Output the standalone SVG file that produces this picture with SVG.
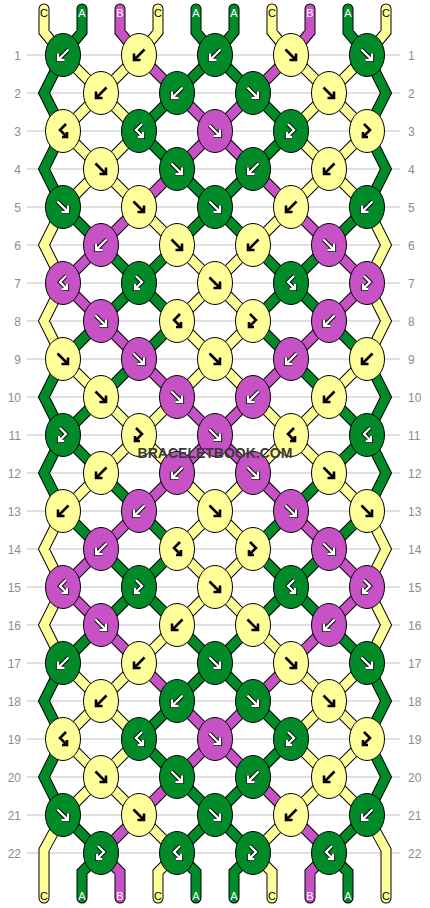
<svg xmlns="http://www.w3.org/2000/svg" xmlns:xlink="http://www.w3.org/1999/xlink" width="430" height="908" viewBox="0 0 430 908">
<style>
.grid{fill:none;stroke:#c0c0c0;stroke-width:1}
.lbl{font-family:"Liberation Sans",Arial,sans-serif;font-size:12px;fill:#8c8c8c}
.o{fill:none;stroke:#000;stroke-width:11;stroke-linecap:round;stroke-linejoin:miter}
.sg,.sy,.sp{fill:none;stroke-width:9;stroke-linecap:round;stroke-linejoin:miter}
.sg{stroke:#008a28}.sy{stroke:#ffff99}.sp{stroke:#c652c6}
.kg,.ky,.kp{stroke:#000;stroke-width:1}
.kg{fill:#008a28}.ky{fill:#ffff99}.kp{fill:#c652c6}
.ao{fill:none;stroke:#000;stroke-width:4.2}
.aw{fill:none;stroke:#fff;stroke-width:2.4}
.ab{fill:none;stroke:#000;stroke-width:2.6}
.lt{font-family:"Liberation Sans",Arial,sans-serif;font-size:11px;text-anchor:middle}
.lw{fill:#fff}.lb{fill:#000}
.wm{font-family:"Liberation Sans",Arial,sans-serif;font-size:14px;font-weight:bold;fill:#3a3a3a;text-anchor:middle}
</style>
<defs>
<path id="F" d="M-5.5,-5.5 L5,5 M5,-1.5 V5 H-1.5"/>
<path id="B" d="M5.5,-5.5 L-5,5 M-5,-1.5 V5 H1.5"/>
<path id="FB" d="M-3,-7 L3,-1 L-4,6 M-4,1 V6 H1"/>
<path id="BF" d="M3,-7 L-3,-1 L4,6 M4,1 V6 H-1"/>
<g id="wF"><use href="#F" class="ao"/><use href="#F" class="aw"/></g>
<g id="wB"><use href="#B" class="ao"/><use href="#B" class="aw"/></g>
<g id="wFB"><use href="#FB" class="ao"/><use href="#FB" class="aw"/></g>
<g id="wBF"><use href="#BF" class="ao"/><use href="#BF" class="aw"/></g>
<path id="pY" d="M44,9V32L63,55M158,9V32L139,55M272,9V32L291,55M386,9V32L367,55
M63,55L101,93M139,55L101,93M291,55L329,93M367,55L329,93
M101,93L63,131M101,93L139,131M329,93L291,131M329,93L367,131
M63,131L101,169M139,131L101,169M291,131L329,169M367,131L329,169
M101,169L63,207M101,169L139,207M329,169L291,207M329,169L367,207
M139,207L177,245M291,207L253,245
M177,245L215,283M253,245L215,283
M215,283L177,321M215,283L253,321
M177,321L215,359M253,321L215,359
M63,359L101,397M215,359L177,397M215,359L253,397M367,359L329,397
M101,397L139,435M177,397L139,435M253,397L291,435M329,397L291,435
M139,435L101,473M139,435L177,473M291,435L253,473M291,435L329,473
M101,473L63,511M177,473L215,511M253,473L215,511M329,473L367,511
M215,511L177,549M215,511L253,549
M177,549L215,587M253,549L215,587
M215,587L177,625M215,587L253,625
M177,625L139,663M253,625L291,663
M63,663L101,701M139,663L101,701M291,663L329,701M367,663L329,701
M101,701L63,739M101,701L139,739M329,701L291,739M329,701L367,739
M63,739L101,777M139,739L101,777M291,739L329,777M367,739L329,777
M101,777L63,815M101,777L139,815M329,777L291,815M329,777L367,815
M139,815L177,853M291,815L253,853
M63,207L44,245L63,283M63,283L44,321L63,359M63,511L44,549L63,587M63,587L44,625L63,663
M367,207L386,245L367,283M367,283L386,321L367,359M367,511L386,549L367,587M367,587L386,625L367,663
M63,815L44,850V898M177,853L158,872V898M253,853L272,872V898M367,815L386,850V898"/>
<path id="pG" d="M82,9V32L63,55M196,9V32L215,55M234,9V32L215,55M348,9V32L367,55
M215,55L177,93M215,55L253,93
M177,93L139,131M253,93L291,131
M139,131L177,169M291,131L253,169
M177,169L215,207M253,169L215,207
M63,207L101,245M215,207L177,245M215,207L253,245M367,207L329,245
M101,245L139,283M177,245L139,283M253,245L291,283M329,245L291,283
M139,283L101,321M139,283L177,321M291,283L253,321M291,283L329,321
M101,321L63,359M177,321L139,359M253,321L291,359M329,321L367,359
M139,359L101,397M291,359L329,397
M101,397L63,435M329,397L367,435
M63,435L101,473M367,435L329,473
M101,473L139,511M329,473L291,511
M63,511L101,549M139,511L177,549M291,511L253,549M367,511L329,549
M101,549L139,587M177,549L139,587M253,549L291,587M329,549L291,587
M139,587L101,625M139,587L177,625M291,587L253,625M291,587L329,625
M101,625L63,663M177,625L215,663M253,625L215,663M329,625L367,663
M215,663L177,701M215,663L253,701
M177,701L139,739M253,701L291,739
M139,739L177,777M291,739L253,777
M177,777L215,815M253,777L215,815
M63,815L101,853M215,815L177,853M215,815L253,853M367,815L329,853
M63,55L44,93L63,131M63,131L44,169L63,207M63,359L44,397L63,435M63,435L44,473L63,511M63,663L44,701L63,739M63,739L44,777L63,815
M367,55L386,93L367,131M367,131L386,169L367,207M367,359L386,397L367,435M367,435L386,473L367,511M367,663L386,701L367,739M367,739L386,777L367,815
M101,853L82,872V898M177,853L196,872V898M253,853L234,872V898M329,853L348,872V898"/>
<path id="pP" d="M120,9V32L139,55M310,9V32L291,55
M139,55L177,93M291,55L253,93
M177,93L215,131M253,93L215,131
M215,131L177,169M215,131L253,169
M177,169L139,207M253,169L291,207
M139,207L101,245M291,207L329,245
M101,245L63,283M329,245L367,283
M63,283L101,321M367,283L329,321
M101,321L139,359M329,321L291,359
M139,359L177,397M291,359L253,397
M177,397L215,435M253,397L215,435
M215,435L177,473M215,435L253,473
M177,473L139,511M253,473L291,511
M139,511L101,549M291,511L329,549
M101,549L63,587M329,549L367,587
M63,587L101,625M367,587L329,625
M101,625L139,663M329,625L291,663
M139,663L177,701M291,663L253,701
M177,701L215,739M253,701L215,739
M215,739L177,777M215,739L253,777
M177,777L139,815M253,777L291,815
M139,815L101,853M291,815L329,853
M101,853L120,872V898M329,853L310,872V898"/>
</defs>
<g id="grid">
<path class="grid" d="M27,55H400M27,93H400M27,131H400M27,169H400M27,207H400M27,245H400M27,283H400M27,321H400M27,359H400M27,397H400M27,435H400M27,473H400M27,511H400M27,549H400M27,587H400M27,625H400M27,663H400M27,701H400M27,739H400M27,777H400M27,815H400M27,853H400"/>
<g class="lbl" text-anchor="end">
<text x="21" y="59.5">1</text><text x="21" y="97.5">2</text><text x="21" y="135.5">3</text><text x="21" y="173.5">4</text><text x="21" y="211.5">5</text><text x="21" y="249.5">6</text><text x="21" y="287.5">7</text><text x="21" y="325.5">8</text><text x="21" y="363.5">9</text><text x="21" y="401.5">10</text><text x="21" y="439.5">11</text><text x="21" y="477.5">12</text><text x="21" y="515.5">13</text><text x="21" y="553.5">14</text><text x="21" y="591.5">15</text><text x="21" y="629.5">16</text><text x="21" y="667.5">17</text><text x="21" y="705.5">18</text><text x="21" y="743.5">19</text><text x="21" y="781.5">20</text><text x="21" y="819.5">21</text><text x="21" y="857.5">22</text>
</g>
<g class="lbl" text-anchor="start">
<text x="408" y="59.5">1</text><text x="408" y="97.5">2</text><text x="408" y="135.5">3</text><text x="408" y="173.5">4</text><text x="408" y="211.5">5</text><text x="408" y="249.5">6</text><text x="408" y="287.5">7</text><text x="408" y="325.5">8</text><text x="408" y="363.5">9</text><text x="408" y="401.5">10</text><text x="408" y="439.5">11</text><text x="408" y="477.5">12</text><text x="408" y="515.5">13</text><text x="408" y="553.5">14</text><text x="408" y="591.5">15</text><text x="408" y="629.5">16</text><text x="408" y="667.5">17</text><text x="408" y="705.5">18</text><text x="408" y="743.5">19</text><text x="408" y="781.5">20</text><text x="408" y="819.5">21</text><text x="408" y="857.5">22</text>
</g>
</g>
<g id="connectors">
<use href="#pY" class="o"/><use href="#pG" class="o"/><use href="#pP" class="o"/>
<use href="#pY" class="sy"/><use href="#pG" class="sg"/><use href="#pP" class="sp"/>
</g>
<g id="string-labels">
<text class="lt lb" x="44" y="16.5">C</text><text class="lt lw" x="82" y="16.5">A</text><text class="lt lw" x="120" y="16.5">B</text><text class="lt lb" x="158" y="16.5">C</text><text class="lt lw" x="196" y="16.5">A</text><text class="lt lw" x="234" y="16.5">A</text><text class="lt lb" x="272" y="16.5">C</text><text class="lt lw" x="310" y="16.5">B</text><text class="lt lw" x="348" y="16.5">A</text><text class="lt lb" x="386" y="16.5">C</text>
<text class="lt lb" x="44" y="900">C</text><text class="lt lw" x="82" y="900">A</text><text class="lt lw" x="120" y="900">B</text><text class="lt lb" x="158" y="900">C</text><text class="lt lw" x="196" y="900">A</text><text class="lt lw" x="234" y="900">A</text><text class="lt lb" x="272" y="900">C</text><text class="lt lw" x="310" y="900">B</text><text class="lt lw" x="348" y="900">A</text><text class="lt lb" x="386" y="900">C</text>
</g>
<g id="knots">
<g id="k1-1"><ellipse class="kg" cx="63" cy="55" rx="17.5" ry="21.5"/><use href="#wB" x="63" y="55"/></g>
<g id="k1-2"><ellipse class="ky" cx="139" cy="55" rx="17.5" ry="21.5"/><use href="#B" class="ab" x="139" y="55"/></g>
<g id="k1-3"><ellipse class="kg" cx="215" cy="55" rx="17.5" ry="21.5"/><use href="#wB" x="215" y="55"/></g>
<g id="k1-4"><ellipse class="ky" cx="291" cy="55" rx="17.5" ry="21.5"/><use href="#F" class="ab" x="291" y="55"/></g>
<g id="k1-5"><ellipse class="kg" cx="367" cy="55" rx="17.5" ry="21.5"/><use href="#wF" x="367" y="55"/></g>
<g id="k2-1"><ellipse class="ky" cx="101" cy="93" rx="17.5" ry="21.5"/><use href="#B" class="ab" x="101" y="93"/></g>
<g id="k2-2"><ellipse class="kg" cx="177" cy="93" rx="17.5" ry="21.5"/><use href="#wB" x="177" y="93"/></g>
<g id="k2-3"><ellipse class="kg" cx="253" cy="93" rx="17.5" ry="21.5"/><use href="#wF" x="253" y="93"/></g>
<g id="k2-4"><ellipse class="ky" cx="329" cy="93" rx="17.5" ry="21.5"/><use href="#F" class="ab" x="329" y="93"/></g>
<g id="k3-1"><ellipse class="ky" cx="63" cy="131" rx="17.5" ry="21.5"/><use href="#BF" class="ab" x="63" y="131"/></g>
<g id="k3-2"><ellipse class="kg" cx="139" cy="131" rx="17.5" ry="21.5"/><use href="#wBF" x="139" y="131"/></g>
<g id="k3-3"><ellipse class="kp" cx="215" cy="131" rx="17.5" ry="21.5"/><use href="#wF" x="215" y="131"/></g>
<g id="k3-4"><ellipse class="kg" cx="291" cy="131" rx="17.5" ry="21.5"/><use href="#wFB" x="291" y="131"/></g>
<g id="k3-5"><ellipse class="ky" cx="367" cy="131" rx="17.5" ry="21.5"/><use href="#FB" class="ab" x="367" y="131"/></g>
<g id="k4-1"><ellipse class="ky" cx="101" cy="169" rx="17.5" ry="21.5"/><use href="#F" class="ab" x="101" y="169"/></g>
<g id="k4-2"><ellipse class="kg" cx="177" cy="169" rx="17.5" ry="21.5"/><use href="#wF" x="177" y="169"/></g>
<g id="k4-3"><ellipse class="kg" cx="253" cy="169" rx="17.5" ry="21.5"/><use href="#wB" x="253" y="169"/></g>
<g id="k4-4"><ellipse class="ky" cx="329" cy="169" rx="17.5" ry="21.5"/><use href="#B" class="ab" x="329" y="169"/></g>
<g id="k5-1"><ellipse class="kg" cx="63" cy="207" rx="17.5" ry="21.5"/><use href="#wF" x="63" y="207"/></g>
<g id="k5-2"><ellipse class="ky" cx="139" cy="207" rx="17.5" ry="21.5"/><use href="#F" class="ab" x="139" y="207"/></g>
<g id="k5-3"><ellipse class="kg" cx="215" cy="207" rx="17.5" ry="21.5"/><use href="#wF" x="215" y="207"/></g>
<g id="k5-4"><ellipse class="ky" cx="291" cy="207" rx="17.5" ry="21.5"/><use href="#B" class="ab" x="291" y="207"/></g>
<g id="k5-5"><ellipse class="kg" cx="367" cy="207" rx="17.5" ry="21.5"/><use href="#wB" x="367" y="207"/></g>
<g id="k6-1"><ellipse class="kp" cx="101" cy="245" rx="17.5" ry="21.5"/><use href="#wB" x="101" y="245"/></g>
<g id="k6-2"><ellipse class="ky" cx="177" cy="245" rx="17.5" ry="21.5"/><use href="#F" class="ab" x="177" y="245"/></g>
<g id="k6-3"><ellipse class="ky" cx="253" cy="245" rx="17.5" ry="21.5"/><use href="#B" class="ab" x="253" y="245"/></g>
<g id="k6-4"><ellipse class="kp" cx="329" cy="245" rx="17.5" ry="21.5"/><use href="#wF" x="329" y="245"/></g>
<g id="k7-1"><ellipse class="kp" cx="63" cy="283" rx="17.5" ry="21.5"/><use href="#wBF" x="63" y="283"/></g>
<g id="k7-2"><ellipse class="kg" cx="139" cy="283" rx="17.5" ry="21.5"/><use href="#wFB" x="139" y="283"/></g>
<g id="k7-3"><ellipse class="ky" cx="215" cy="283" rx="17.5" ry="21.5"/><use href="#F" class="ab" x="215" y="283"/></g>
<g id="k7-4"><ellipse class="kg" cx="291" cy="283" rx="17.5" ry="21.5"/><use href="#wBF" x="291" y="283"/></g>
<g id="k7-5"><ellipse class="kp" cx="367" cy="283" rx="17.5" ry="21.5"/><use href="#wFB" x="367" y="283"/></g>
<g id="k8-1"><ellipse class="kp" cx="101" cy="321" rx="17.5" ry="21.5"/><use href="#wF" x="101" y="321"/></g>
<g id="k8-2"><ellipse class="ky" cx="177" cy="321" rx="17.5" ry="21.5"/><use href="#BF" class="ab" x="177" y="321"/></g>
<g id="k8-3"><ellipse class="ky" cx="253" cy="321" rx="17.5" ry="21.5"/><use href="#FB" class="ab" x="253" y="321"/></g>
<g id="k8-4"><ellipse class="kp" cx="329" cy="321" rx="17.5" ry="21.5"/><use href="#wB" x="329" y="321"/></g>
<g id="k9-1"><ellipse class="ky" cx="63" cy="359" rx="17.5" ry="21.5"/><use href="#F" class="ab" x="63" y="359"/></g>
<g id="k9-2"><ellipse class="kp" cx="139" cy="359" rx="17.5" ry="21.5"/><use href="#wF" x="139" y="359"/></g>
<g id="k9-3"><ellipse class="ky" cx="215" cy="359" rx="17.5" ry="21.5"/><use href="#F" class="ab" x="215" y="359"/></g>
<g id="k9-4"><ellipse class="kp" cx="291" cy="359" rx="17.5" ry="21.5"/><use href="#wB" x="291" y="359"/></g>
<g id="k9-5"><ellipse class="ky" cx="367" cy="359" rx="17.5" ry="21.5"/><use href="#B" class="ab" x="367" y="359"/></g>
<g id="k10-1"><ellipse class="ky" cx="101" cy="397" rx="17.5" ry="21.5"/><use href="#F" class="ab" x="101" y="397"/></g>
<g id="k10-2"><ellipse class="kp" cx="177" cy="397" rx="17.5" ry="21.5"/><use href="#wF" x="177" y="397"/></g>
<g id="k10-3"><ellipse class="kp" cx="253" cy="397" rx="17.5" ry="21.5"/><use href="#wB" x="253" y="397"/></g>
<g id="k10-4"><ellipse class="ky" cx="329" cy="397" rx="17.5" ry="21.5"/><use href="#B" class="ab" x="329" y="397"/></g>
<g id="k11-1"><ellipse class="kg" cx="63" cy="435" rx="17.5" ry="21.5"/><use href="#wFB" x="63" y="435"/></g>
<g id="k11-2"><ellipse class="ky" cx="139" cy="435" rx="17.5" ry="21.5"/><use href="#FB" class="ab" x="139" y="435"/></g>
<g id="k11-3"><ellipse class="kp" cx="215" cy="435" rx="17.5" ry="21.5"/><use href="#wF" x="215" y="435"/></g>
<g id="k11-4"><ellipse class="ky" cx="291" cy="435" rx="17.5" ry="21.5"/><use href="#BF" class="ab" x="291" y="435"/></g>
<g id="k11-5"><ellipse class="kg" cx="367" cy="435" rx="17.5" ry="21.5"/><use href="#wBF" x="367" y="435"/></g>
<g id="k12-1"><ellipse class="ky" cx="101" cy="473" rx="17.5" ry="21.5"/><use href="#B" class="ab" x="101" y="473"/></g>
<g id="k12-2"><ellipse class="kp" cx="177" cy="473" rx="17.5" ry="21.5"/><use href="#wB" x="177" y="473"/></g>
<g id="k12-3"><ellipse class="kp" cx="253" cy="473" rx="17.5" ry="21.5"/><use href="#wF" x="253" y="473"/></g>
<g id="k12-4"><ellipse class="ky" cx="329" cy="473" rx="17.5" ry="21.5"/><use href="#F" class="ab" x="329" y="473"/></g>
<g id="k13-1"><ellipse class="ky" cx="63" cy="511" rx="17.5" ry="21.5"/><use href="#B" class="ab" x="63" y="511"/></g>
<g id="k13-2"><ellipse class="kp" cx="139" cy="511" rx="17.5" ry="21.5"/><use href="#wB" x="139" y="511"/></g>
<g id="k13-3"><ellipse class="ky" cx="215" cy="511" rx="17.5" ry="21.5"/><use href="#F" class="ab" x="215" y="511"/></g>
<g id="k13-4"><ellipse class="kp" cx="291" cy="511" rx="17.5" ry="21.5"/><use href="#wF" x="291" y="511"/></g>
<g id="k13-5"><ellipse class="ky" cx="367" cy="511" rx="17.5" ry="21.5"/><use href="#F" class="ab" x="367" y="511"/></g>
<g id="k14-1"><ellipse class="kp" cx="101" cy="549" rx="17.5" ry="21.5"/><use href="#wB" x="101" y="549"/></g>
<g id="k14-2"><ellipse class="ky" cx="177" cy="549" rx="17.5" ry="21.5"/><use href="#BF" class="ab" x="177" y="549"/></g>
<g id="k14-3"><ellipse class="ky" cx="253" cy="549" rx="17.5" ry="21.5"/><use href="#FB" class="ab" x="253" y="549"/></g>
<g id="k14-4"><ellipse class="kp" cx="329" cy="549" rx="17.5" ry="21.5"/><use href="#wF" x="329" y="549"/></g>
<g id="k15-1"><ellipse class="kp" cx="63" cy="587" rx="17.5" ry="21.5"/><use href="#wBF" x="63" y="587"/></g>
<g id="k15-2"><ellipse class="kg" cx="139" cy="587" rx="17.5" ry="21.5"/><use href="#wFB" x="139" y="587"/></g>
<g id="k15-3"><ellipse class="ky" cx="215" cy="587" rx="17.5" ry="21.5"/><use href="#F" class="ab" x="215" y="587"/></g>
<g id="k15-4"><ellipse class="kg" cx="291" cy="587" rx="17.5" ry="21.5"/><use href="#wBF" x="291" y="587"/></g>
<g id="k15-5"><ellipse class="kp" cx="367" cy="587" rx="17.5" ry="21.5"/><use href="#wFB" x="367" y="587"/></g>
<g id="k16-1"><ellipse class="kp" cx="101" cy="625" rx="17.5" ry="21.5"/><use href="#wF" x="101" y="625"/></g>
<g id="k16-2"><ellipse class="ky" cx="177" cy="625" rx="17.5" ry="21.5"/><use href="#B" class="ab" x="177" y="625"/></g>
<g id="k16-3"><ellipse class="ky" cx="253" cy="625" rx="17.5" ry="21.5"/><use href="#F" class="ab" x="253" y="625"/></g>
<g id="k16-4"><ellipse class="kp" cx="329" cy="625" rx="17.5" ry="21.5"/><use href="#wB" x="329" y="625"/></g>
<g id="k17-1"><ellipse class="kg" cx="63" cy="663" rx="17.5" ry="21.5"/><use href="#wB" x="63" y="663"/></g>
<g id="k17-2"><ellipse class="ky" cx="139" cy="663" rx="17.5" ry="21.5"/><use href="#B" class="ab" x="139" y="663"/></g>
<g id="k17-3"><ellipse class="kg" cx="215" cy="663" rx="17.5" ry="21.5"/><use href="#wF" x="215" y="663"/></g>
<g id="k17-4"><ellipse class="ky" cx="291" cy="663" rx="17.5" ry="21.5"/><use href="#F" class="ab" x="291" y="663"/></g>
<g id="k17-5"><ellipse class="kg" cx="367" cy="663" rx="17.5" ry="21.5"/><use href="#wF" x="367" y="663"/></g>
<g id="k18-1"><ellipse class="ky" cx="101" cy="701" rx="17.5" ry="21.5"/><use href="#B" class="ab" x="101" y="701"/></g>
<g id="k18-2"><ellipse class="kg" cx="177" cy="701" rx="17.5" ry="21.5"/><use href="#wB" x="177" y="701"/></g>
<g id="k18-3"><ellipse class="kg" cx="253" cy="701" rx="17.5" ry="21.5"/><use href="#wF" x="253" y="701"/></g>
<g id="k18-4"><ellipse class="ky" cx="329" cy="701" rx="17.5" ry="21.5"/><use href="#F" class="ab" x="329" y="701"/></g>
<g id="k19-1"><ellipse class="ky" cx="63" cy="739" rx="17.5" ry="21.5"/><use href="#BF" class="ab" x="63" y="739"/></g>
<g id="k19-2"><ellipse class="kg" cx="139" cy="739" rx="17.5" ry="21.5"/><use href="#wBF" x="139" y="739"/></g>
<g id="k19-3"><ellipse class="kp" cx="215" cy="739" rx="17.5" ry="21.5"/><use href="#wF" x="215" y="739"/></g>
<g id="k19-4"><ellipse class="kg" cx="291" cy="739" rx="17.5" ry="21.5"/><use href="#wFB" x="291" y="739"/></g>
<g id="k19-5"><ellipse class="ky" cx="367" cy="739" rx="17.5" ry="21.5"/><use href="#FB" class="ab" x="367" y="739"/></g>
<g id="k20-1"><ellipse class="ky" cx="101" cy="777" rx="17.5" ry="21.5"/><use href="#F" class="ab" x="101" y="777"/></g>
<g id="k20-2"><ellipse class="kg" cx="177" cy="777" rx="17.5" ry="21.5"/><use href="#wF" x="177" y="777"/></g>
<g id="k20-3"><ellipse class="kg" cx="253" cy="777" rx="17.5" ry="21.5"/><use href="#wB" x="253" y="777"/></g>
<g id="k20-4"><ellipse class="ky" cx="329" cy="777" rx="17.5" ry="21.5"/><use href="#B" class="ab" x="329" y="777"/></g>
<g id="k21-1"><ellipse class="kg" cx="63" cy="815" rx="17.5" ry="21.5"/><use href="#wF" x="63" y="815"/></g>
<g id="k21-2"><ellipse class="ky" cx="139" cy="815" rx="17.5" ry="21.5"/><use href="#F" class="ab" x="139" y="815"/></g>
<g id="k21-3"><ellipse class="kg" cx="215" cy="815" rx="17.5" ry="21.5"/><use href="#wF" x="215" y="815"/></g>
<g id="k21-4"><ellipse class="ky" cx="291" cy="815" rx="17.5" ry="21.5"/><use href="#B" class="ab" x="291" y="815"/></g>
<g id="k21-5"><ellipse class="kg" cx="367" cy="815" rx="17.5" ry="21.5"/><use href="#wB" x="367" y="815"/></g>
<g id="k22-1"><ellipse class="kg" cx="101" cy="853" rx="17.5" ry="21.5"/><use href="#wFB" x="101" y="853"/></g>
<g id="k22-2"><ellipse class="kg" cx="177" cy="853" rx="17.5" ry="21.5"/><use href="#wBF" x="177" y="853"/></g>
<g id="k22-3"><ellipse class="kg" cx="253" cy="853" rx="17.5" ry="21.5"/><use href="#wFB" x="253" y="853"/></g>
<g id="k22-4"><ellipse class="kg" cx="329" cy="853" rx="17.5" ry="21.5"/><use href="#wBF" x="329" y="853"/></g>
</g>
<text class="wm" x="215" y="458">BRACELETBOOK.COM</text>
</svg>
